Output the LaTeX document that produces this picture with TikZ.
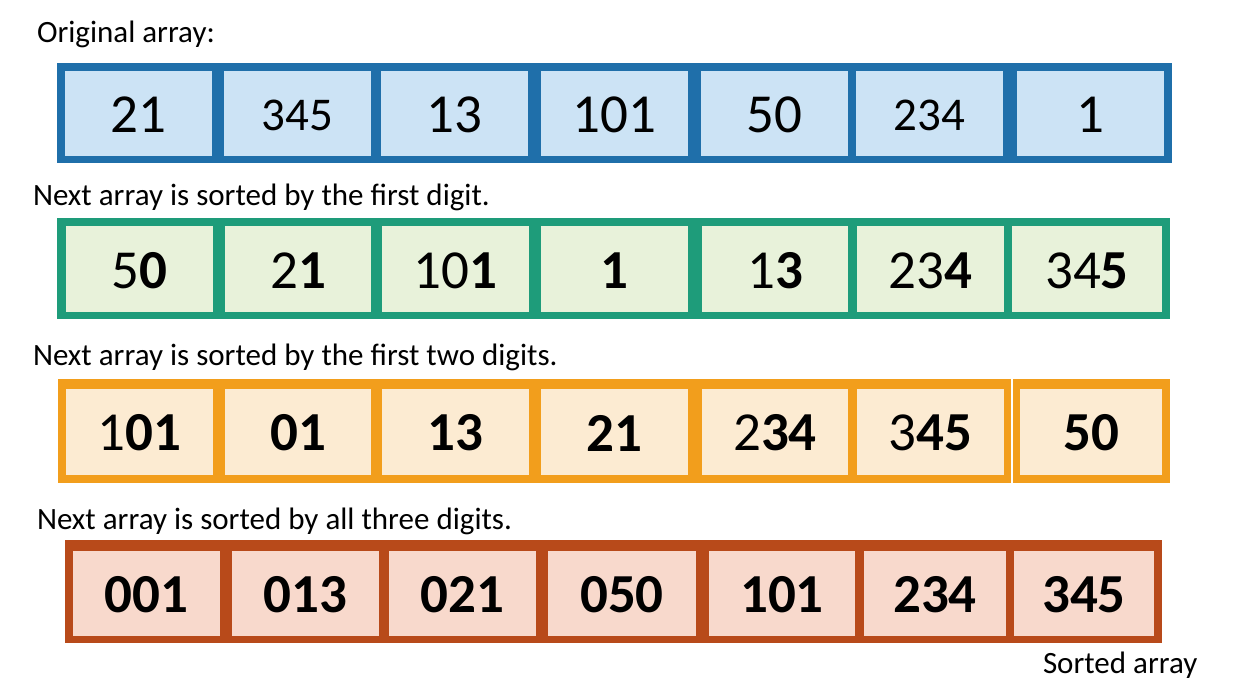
\documentclass[tikz,border=0pt]{standalone}
\usepackage{fontspec}
\setmainfont{Carlito}
\definecolor{bluebd}{HTML}{1F6FAA}
\definecolor{bluefl}{HTML}{CCE3F5}
\definecolor{greenbd}{HTML}{1E9C7A}
\definecolor{greenfl}{HTML}{E8F2DA}
\definecolor{orangebd}{HTML}{F29E1C}
\definecolor{orangefl}{HTML}{FCEBD2}
\definecolor{rustbd}{HTML}{B84A1A}
\definecolor{rustfl}{HTML}{F8D9CC}
\tikzset{
  num/.style={inner sep=0pt, outer sep=0pt, text=black, font=\fontsize{55}{60}\selectfont},
  smallnum/.style={num, font=\fontsize{47}{52}\selectfont},
  bnum/.style={num, font=\fontsize{55}{60}\selectfont\bfseries},
  lab/.style={anchor=base west, inner sep=0pt, outer sep=0pt, text=black, font=\fontsize{31}{36}\selectfont},
}
\begin{document}
\begin{tikzpicture}[x=1pt,y=-1pt]
\useasboundingbox (0,0) rectangle (1240,692);
% labels
\node[lab] (t1) at (37,42.7) {Original array:};
\node[lab] (t2) at (33,206) {Next array is sorted by the first digit.};
\node[lab] (t3) at (33,366) {Next array is sorted by the first two digits.};
\node[lab] (t4) at (37,529) {Next array is sorted by all three digits.};
\node[lab] (t5) at (1043,673) {Sorted array};
% row 1
\fill[bluebd] (57,63) rectangle (1172,163);
\foreach \l/\r/\t/\s [count=\i] in {65/212/21/num,224/371/345/smallnum,381/528/13/num,541/688/101/num,701/848/50/num,856/1003/234/smallnum,1017/1164/1/num}{
  \fill[bluefl] (\l,71) rectangle (\r,156);
  \node[\s] (a\i) at ({(\l+\r)/2},115) {\t};
}
% row 2
\fill[greenbd] (57,218) rectangle (1170,319);
\foreach \l/\r/\t [count=\i] in {66/213/{5\textbf{0}},225/371/{2\textbf{1}},382/529/{10\textbf{1}},541/688/{\textbf{1}},702/848/{1\textbf{3}},857/1004/{23\textbf{4}},1012/1162/{34\textbf{5}}}{
  \fill[greenfl] (\l,226) rectangle (\r,312);
  \node[num] (b\i) at ({(\l+\r)/2},270.5) {\t};
}
% row 3
\fill[orangebd] (58,379) rectangle (1170,483);
\fill[white] (1011,379) rectangle (1013,483);
\foreach \l/\r/\t [count=\i] in {66/213/{1\textbf{01}},225/371/{\textbf{01}},382/529/{\textbf{13}},541/688/{\textbf{21}},702/848/{2\textbf{34}},857/1004/{3\textbf{45}},1020/1162/{\textbf{50}}}{
  \fill[orangefl] (\l,389) rectangle (\r,475);
  \node[num] (c\i) at ({(\l+\r)/2},433) {\t};
}
% row 4
\fill[rustbd] (65,540) rectangle (1162,643);
\foreach \l/\r/\t [count=\i] in {73/220/001,232/379/013,389/536/021,548/696/050,709/855/101,864/1006/234,1014/1154/345}{
  \fill[rustfl] (\l,551) rectangle (\r,636);
  \node[bnum] (d\i) at ({(\l+\r)/2},595) {\t};
}
\end{tikzpicture}
\end{document}
